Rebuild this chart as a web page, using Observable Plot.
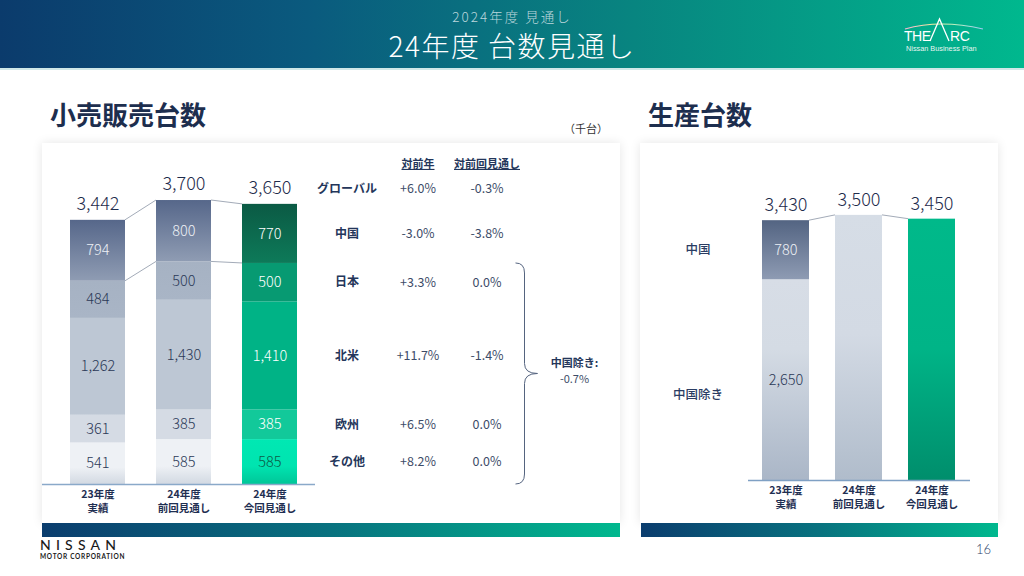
<!DOCTYPE html>
<html>
<head>
<meta charset="utf-8">
<script src="https://cdn.jsdelivr.net/npm/d3@7"></script>
<script src="https://cdn.jsdelivr.net/npm/@observablehq/plot@0.6"></script>
<style>
html,body{margin:0;padding:0;}
body{width:1024px;height:576px;position:relative;overflow:hidden;background:#fff;font-family:"Noto Sans CJK JP","Noto Sans",sans-serif;}
.abs{position:absolute;}
#header{left:0;top:0;width:1024px;height:68px;background:linear-gradient(90deg,#0b3b6c 0%,#0a5a7e 30%,#088580 62%,#00b88e 100%);box-shadow:0 2px 0 rgba(120,190,190,0.35);}
#subtitle{left:0;width:1024px;top:7px;text-align:center;color:#bcd7dd;font-size:13.5px;line-height:18px;letter-spacing:2px;font-weight:300;}
#title{left:0;width:1024px;top:28px;text-align:center;color:#fff;font-size:28px;line-height:34px;letter-spacing:1.5px;font-weight:300;}
.sect{font-size:26px;line-height:30px;font-weight:bold;color:#1d2e4e;top:99px;}
#unit{left:564px;top:120px;font-size:11px;color:#333;}
.panel{top:143px;height:380px;background:#fff;box-shadow:0 0 10px rgba(0,0,0,0.10);}
.gbar{top:523px;height:14px;background:linear-gradient(90deg,#0b3d6e 0%,#08727f 50%,#00b88e 100%);}
#nissan{left:40px;top:536px;font-family:"Lato","Inter",sans-serif;font-size:14px;font-weight:500;letter-spacing:5.2px;color:#1a1a1a;}
#motor{left:40px;top:553px;font-family:"Lato","Inter",sans-serif;font-size:6.5px;font-weight:bold;letter-spacing:0.7px;color:#1a1a1a;}
#page{left:976px;top:541px;font-family:"Lato",sans-serif;font-size:13px;font-weight:300;color:#2d3f6b;}
.hdr text{text-decoration:underline;}
</style>
</head>
<body>
<div id="header" class="abs"></div>
<div id="subtitle" class="abs">2024年度 見通し</div>
<div id="title" class="abs">24年度 台数見通し</div>
<svg class="abs" style="left:900px;top:14px" width="100" height="42">
  <defs>
    <linearGradient id="arcg" x1="0" x2="1" y1="0" y2="0">
      <stop offset="0" stop-color="#f7b3d6"/><stop offset="0.35" stop-color="#f4e9a0"/>
      <stop offset="0.65" stop-color="#b8f0c0"/><stop offset="1" stop-color="#9cc8f0"/>
    </linearGradient>
  </defs>
  <path d="M5 15 Q40 5 83 15" fill="none" stroke="url(#arcg)" stroke-width="1.2"/>
  <text x="4" y="27" fill="#fff" font-family="Liberation Sans, sans-serif" font-size="14" letter-spacing="-0.5">THE</text>
  <path d="M30 27 L39.5 5 L49 27" fill="none" stroke="#fff" stroke-width="1.3"/>
  <text x="50" y="27" fill="#fff" font-family="Liberation Sans, sans-serif" font-size="14" letter-spacing="-0.3">RC</text>
  <text x="6" y="37" fill="#e6f5f0" font-family="Liberation Sans, sans-serif" font-size="7.3">Nissan Business Plan</text>
</svg>

<div class="abs sect" style="left:50px">小売販売台数</div>
<div class="abs" id="unit">（千台）</div>
<div class="abs sect" style="left:648px">生産台数</div>

<div class="abs panel" style="left:42px;width:578px"></div>
<div class="abs panel" style="left:640px;width:358px"></div>
<div id="leftChart" class="abs" style="left:42px;top:145px"></div>
<div id="rightChart" class="abs" style="left:640px;top:145px"></div>
<div class="abs gbar" style="left:42px;width:578px"></div>
<div class="abs gbar" style="left:641px;width:357px"></div>

<div id="nissan" class="abs">NISSAN</div>
<div id="motor" class="abs">MOTOR CORPORATION</div>
<div id="page" class="abs">16</div>

<script>
// ---------- data ----------
const bars = ["23年度\n実績", "24年度\n前回見通し", "24年度\n今回見通し"];

// 小売販売台数（千台） — stacked bottom → top
const retailRegions = ["その他", "欧州", "北米", "日本", "中国"];
const retailOther        = [541, 585, 585];
const retailEurope       = [361, 385, 385];
const retailNorthAmerica = [1262, 1430, 1410];
const retailJapan        = [484, 500, 500];
const retailChina        = [794, 800, 770];
const retailTotals       = [3442, 3700, 3650];

// table
const tableHeaders   = ["対前年", "対前回見通し"];
const tableRegions   = ["グローバル", "中国", "日本", "北米", "欧州", "その他"];
const vsPrevYear     = ["+6.0%", "-3.0%", "+3.3%", "+11.7%", "+6.5%", "+8.2%"];
const vsPrevForecast = ["-0.3%", "-3.8%", "0.0%", "-1.4%", "0.0%", "0.0%"];
const exChinaLabel   = "中国除き:";
const exChinaVsPrevForecast = "-0.7%";

// 生産台数（千台）
const prodExChina = [2650, null, null];
const prodChina   = [780, null, null];
const prodTotals  = [3430, 3500, 3450];

// ---------- build ----------
const FONT = '"Noto Sans CJK JP", "Noto Sans", sans-serif';
const fmt = d3.format(",");
const retailSeries = {"その他": retailOther, "欧州": retailEurope, "北米": retailNorthAmerica, "日本": retailJapan, "中国": retailChina};
const regionKey = {"その他": "ot", "欧州": "eu", "北米": "na", "日本": "jp", "中国": "cn"};

const retailRows = [];
bars.forEach((b, i) => {
  let acc = 0;
  retailRegions.forEach(r => {
    const v = retailSeries[r][i];
    retailRows.push({bar: b, i, region: r, value: v, y1: acc, y2: acc + v, mid: acc + v / 2});
    acc += v;
  });
});
const retailTotalRows = bars.map((b, i) => ({bar: b, i, total: retailTotals[i]}));
const retailFill = d => `url(#${d.i === 2 ? "g" : "s"}-${regionKey[d.region]})`;
const retailLabelColor = d => d.i === 2
  ? (d.region === "その他" ? "#0d5c47" : "#ffffff")
  : (d.region === "中国" ? "#eef1f6" : "#2b3957");

const tableRows = tableRegions.map((r, k) => ({
  region: r, yoy: vsPrevYear[k], vsf: vsPrevForecast[k], bar: bars[2],
  y: r === "グローバル" ? retailTotals[2] : retailRows.find(d => d.i === 2 && d.region === r).mid
}));
const tableMarks = (rows, dy) => [
  Plot.text(rows, {x: "bar", y: "y", text: "region", dx: 77, dy, fontSize: 12, fontWeight: "bold", fill: "#24365a"}),
  Plot.text(rows, {x: "bar", y: "y", text: "yoy", dx: 148, dy, fontSize: 12.5, fill: "#3d4c68"}),
  Plot.text(rows, {x: "bar", y: "y", text: "vsf", dx: 217, dy, fontSize: 12.5, fill: "#3d4c68"})
];

const axisOpts = {tickSize: 0, tickPadding: 4, fontSize: 10.5, fontWeight: "bold", color: "#1f2f52", lineHeight: 1.32, label: null};

const left = Plot.plot({
  width: 578, height: 377,
  marginLeft: 27, marginRight: 321, marginTop: 32, marginBottom: 38,
  style: {fontFamily: FONT, background: "transparent", overflow: "visible"},
  x: {domain: bars, paddingInner: 0.3563, paddingOuter: 0},
  y: {domain: [0, 4000], axis: null},
  color: {type: "identity"},
  marks: [
    Plot.barY(retailRows, {x: "bar", y1: "y1", y2: "y2", fill: retailFill}),
    Plot.ruleY([0], {stroke: "#8aa9c9", strokeWidth: 1.3, insetLeft: -27, insetRight: -16}),
    Plot.text(retailRows, {x: "bar", y: "mid", text: d => fmt(d.value), fill: retailLabelColor, fontSize: 14.5, fontWeight: 300}),
    Plot.text(retailTotalRows, {x: "bar", y: "total", text: d => fmt(d.total), dy: -16, fontSize: 18, fontWeight: 300, fill: "#1f2c4c"}),
    Plot.axisX(axisOpts),
    ...tableMarks(tableRows.filter(d => d.region === "グローバル"), -15),
    ...tableMarks(tableRows.filter(d => d.region !== "グローバル"), 0),
    Plot.text([tableHeaders[0]], {x: () => bars[2], y: () => retailTotals[2], text: d => d, dx: 148, dy: -40, fontSize: 11, fontWeight: "bold", fill: "#24365a", className: "hdr"}),
    Plot.text([tableHeaders[1]], {x: () => bars[2], y: () => retailTotals[2], text: d => d, dx: 217, dy: -40, fontSize: 11, fontWeight: "bold", fill: "#24365a", className: "hdr"})
  ]
});

// production rows
const prodRows = [];
bars.forEach((b, i) => {
  if (prodChina[i] != null) {
    prodRows.push({bar: b, i, seg: "中国除き", value: prodExChina[i], y1: 0, y2: prodExChina[i], mid: prodExChina[i] / 2});
    prodRows.push({bar: b, i, seg: "中国", value: prodChina[i], y1: prodExChina[i], y2: prodExChina[i] + prodChina[i], mid: prodExChina[i] + prodChina[i] / 2});
  } else {
    prodRows.push({bar: b, i, seg: "合計", value: prodTotals[i], y1: 0, y2: prodTotals[i], mid: prodTotals[i] / 2});
  }
});
const prodTotalRows = bars.map((b, i) => ({bar: b, i, total: prodTotals[i]}));
const prodFill = d => d.i === 0 ? (d.seg === "中国" ? "url(#p-cn)" : "url(#p-ex)") : d.i === 1 ? "url(#p-prev)" : "url(#p-now)";
const segRows = prodRows.filter(d => d.i === 0);

const right = Plot.plot({
  width: 360, height: 377,
  marginLeft: 121, marginRight: 43, marginTop: 32, marginBottom: 42,
  style: {fontFamily: FONT, background: "transparent", overflow: "visible"},
  x: {domain: bars, paddingInner: 0.351, paddingOuter: 0},
  y: {domain: [0, 4000], axis: null},
  color: {type: "identity"},
  marks: [
    Plot.barY(prodRows, {x: "bar", y1: "y1", y2: "y2", fill: prodFill}),
    Plot.ruleY([0], {stroke: "#7fa0c4", strokeWidth: 1.3, insetLeft: -13, insetRight: -13}),
    Plot.text(segRows, {x: "bar", y: "mid", text: d => fmt(d.value), fill: d => d.seg === "中国" ? "#eef1f6" : "#2b3957", fontSize: 14.5, fontWeight: 300}),
    Plot.text(prodTotalRows, {x: "bar", y: "total", text: d => fmt(d.total), dy: -15, fontSize: 18, fontWeight: 300, fill: "#1f2c4c"}),
    Plot.text(segRows.filter(d => d.seg === "中国"), {x: "bar", y: "mid", text: "seg", dx: -88, fontSize: 12.5, fontWeight: 500, fill: "#2a3c63"}),
    Plot.text(segRows.filter(d => d.seg === "中国除き"), {x: "bar", y: "mid", text: "seg", dx: -88, dy: 15, fontSize: 12.5, fontWeight: 500, fill: "#2a3c63"}),
    Plot.axisX(axisOpts)
  ]
});

// ---------- gradients & overlays ----------
function addDefs(svg, grads) {
  const defs = d3.select(svg).insert("defs", ":first-child");
  for (const [id, stops] of Object.entries(grads)) {
    const g = defs.append("linearGradient").attr("id", id).attr("x1", 0).attr("y1", 0).attr("x2", 0).attr("y2", 1);
    for (const [o, c] of stops) g.append("stop").attr("offset", o).attr("stop-color", c);
  }
}
addDefs(left, {
  "s-cn": [[0, "#56678a"], [1, "#8f9cb3"]],
  "s-jp": [[0, "#a6b2c3"], [1, "#a9b5c6"]],
  "s-na": [[0, "#bdc7d4"], [1, "#bdc7d4"]],
  "s-eu": [[0, "#d5dbe4"], [1, "#d5dbe4"]],
  "s-ot": [[0, "#eef1f5"], [0.6, "#eef1f5"], [1, "#d2d9e2"]],
  "g-cn": [[0, "#0b5a44"], [1, "#0d7a59"]],
  "g-jp": [[0, "#079a72"], [1, "#079a72"]],
  "g-na": [[0, "#00b386"], [1, "#00b386"]],
  "g-eu": [[0, "#12c99a"], [1, "#12c99a"]],
  "g-ot": [[0, "#00e8b3"], [0.6, "#00e4b0"], [1, "#00c698"]]
});
addDefs(right, {
  "p-cn": [[0, "#536482"], [1, "#8e9bb3"]],
  "p-ex": [[0, "#d7dde6"], [0.35, "#d4dbe4"], [1, "#aab6c7"]],
  "p-prev": [[0, "#d6dde6"], [0.45, "#d3dae4"], [1, "#b0bccb"]],
  "p-now": [[0, "#00b98a"], [0.5, "#00b487"], [1, "#008e6c"]]
});

function connectors(svg, pairs) {
  const xs = svg.scale("x"), ys = svg.scale("y");
  const g = d3.select(svg).append("g").attr("stroke", "#a3abb8").attr("stroke-width", 1).attr("fill", "none");
  for (const [a, va, b, vb] of pairs) {
    g.append("line")
      .attr("x1", xs.apply(a) + xs.bandwidth).attr("y1", ys.apply(va))
      .attr("x2", xs.apply(b)).attr("y2", ys.apply(vb));
  }
}
connectors(left, [
  [bars[0], retailTotals[0], bars[1], retailTotals[1]],
  [bars[0], retailTotals[0] - retailChina[0], bars[1], retailTotals[1] - retailChina[1]],
  [bars[1], retailTotals[1], bars[2], retailTotals[2]],
  [bars[1], retailTotals[1] - retailChina[1], bars[2], retailTotals[2] - retailChina[2]]
]);
connectors(right, [
  [bars[0], prodTotals[0], bars[1], prodTotals[1]],
  [bars[1], prodTotals[1], bars[2], prodTotals[2]]
]);

// brace for non-China regions
{
  const xs = left.scale("x"), ys = left.scale("y");
  const cx = xs.apply(bars[2]) + xs.bandwidth / 2;
  const yT = ys.apply(retailTotals[2] - retailChina[2]);
  const yB = ys.apply(0);
  const ym = (yT + yB) / 2;
  const xL = cx + 246, xM = cx + 255, xR = cx + 268;
  const p = `M${xL},${yT} Q${xM},${yT} ${xM},${yT + 10} L${xM},${ym - 10} Q${xM},${ym} ${xR},${ym} Q${xM},${ym} ${xM},${ym + 10} L${xM},${yB - 10} Q${xM},${yB} ${xL},${yB}`;
  const s = d3.select(left);
  s.append("path").attr("d", p).attr("fill", "none").attr("stroke", "#55647f").attr("stroke-width", 1);
  s.append("text").attr("x", cx + 305).attr("y", ym - 10).attr("text-anchor", "middle").attr("dy", "0.35em")
    .attr("font-size", 11).attr("font-weight", "bold").attr("fill", "#24365a").text(exChinaLabel);
  s.append("text").attr("x", cx + 305).attr("y", ym + 6).attr("text-anchor", "middle").attr("dy", "0.35em")
    .attr("font-size", 11).attr("fill", "#3d4c68").text(exChinaVsPrevForecast);
}

document.getElementById("leftChart").appendChild(left);
document.getElementById("rightChart").appendChild(right);
</script>
</body>
</html>
